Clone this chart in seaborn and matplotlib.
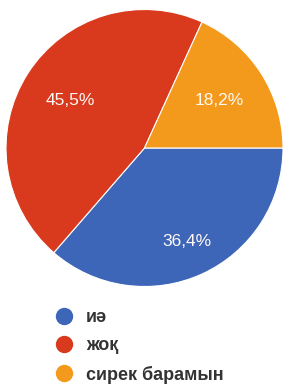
import matplotlib
matplotlib.use("Agg")
import matplotlib.pyplot as plt
import seaborn as sns
import numpy as np
from matplotlib.lines import Line2D

sns.set_theme(style="white")
plt.rcParams['font.family'] = ['Liberation Sans', 'DejaVu Sans']

categories = ["иә", "жоқ", "сирек барамын"]
values = [36.4, 45.5, 18.2]
colors = ["#3d66b8", "#d93a1e", "#f39a1d"]
pct_labels = ["36,4%", "45,5%", "18,2%"]

fig = plt.figure(figsize=(2.84, 3.84), dpi=100)
W, H = 284, 384
cx, cy, r = 144.5, 148, 138.5
ax = fig.add_axes([(cx - r) / W, (H - cy - r) / H, 2 * r / W, 2 * r / H])

wedges, _ = ax.pie(values, colors=colors, startangle=0, counterclock=False,
                   radius=1, wedgeprops=dict(edgecolor="white", linewidth=0.8))
dists = [0.745, 0.64, 0.64]
for w, lab, d in zip(wedges, pct_labels, dists):
    ang = np.deg2rad((w.theta1 + w.theta2) / 2)
    ax.text(d * np.cos(ang), d * np.sin(ang), lab, color="#fff8f4",
            ha="center", va="center", fontsize=12.5)
ax.set_xlim(-1, 1)
ax.set_ylim(-1, 1)
ax.set_aspect("equal")
ax.axis("off")

handles = [Line2D([0], [0], marker="o", linestyle="", markersize=11.5,
                  markerfacecolor=c, markeredgecolor=c) for c in colors]
leg = fig.legend(handles, categories, loc="upper left",
                 bbox_to_anchor=(39 / W, 1 - 302 / H), frameon=False,
                 handletextpad=0.2, labelspacing=0.62, borderaxespad=0,
                 prop=dict(family=['Liberation Sans', 'DejaVu Sans'], weight="bold", size=13))
for t in leg.get_texts():
    t.set_color("#333333")

fig.savefig("out.png", dpi=100, facecolor="white")
